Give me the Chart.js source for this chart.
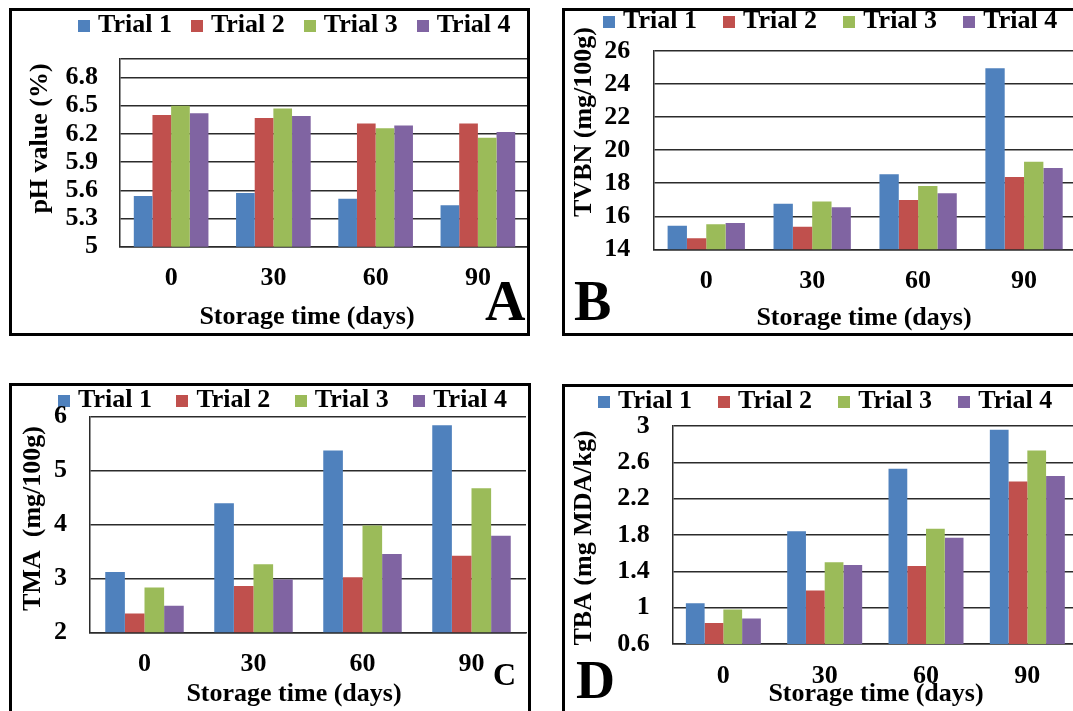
<!DOCTYPE html>
<html><head><meta charset="utf-8">
<script src="https://cdn.jsdelivr.net/npm/chart.js@4.4.1/dist/chart.umd.min.js"></script>
<style>
html,body{margin:0;padding:0;background:#fff;overflow:hidden;width:1073px;height:711px;}
body{position:relative;}
canvas{position:absolute;}
.box{position:absolute;border:3px solid #000;box-sizing:border-box;pointer-events:none;}
</style></head><body>
<canvas id="cA" width="560" height="370" style="left:0;top:0;width:560px;height:370px"></canvas>
<canvas id="cB" width="580" height="370" style="left:545px;top:0;width:580px;height:370px"></canvas>
<canvas id="cC" width="560" height="350" style="left:0;top:370px;width:560px;height:350px"></canvas>
<canvas id="cD" width="580" height="350" style="left:545px;top:370px;width:580px;height:350px"></canvas>
<div class="box" style="left:9px;top:8px;width:521px;height:328px"></div>
<div class="box" style="left:562px;top:8px;width:600px;height:328px"></div>
<div class="box" style="left:9px;top:383px;width:522px;height:400px"></div>
<div class="box" style="left:562px;top:384px;width:600px;height:400px"></div>
<script>
// ---- data ----
const days = ['0', '30', '60', '90'];
const trials = ['Trial 1', 'Trial 2', 'Trial 3', 'Trial 4'];

const ph1 = [5.54, 5.57, 5.51, 5.44];
const ph2 = [6.40, 6.37, 6.31, 6.31];
const ph3 = [6.50, 6.47, 6.26, 6.16];
const ph4 = [6.42, 6.39, 6.29, 6.22];

const tvbn1 = [15.43, 16.76, 18.54, 24.95];
const tvbn2 = [14.67, 15.37, 16.98, 18.38];
const tvbn3 = [15.51, 16.90, 17.83, 19.30];
const tvbn4 = [15.59, 16.54, 17.39, 18.92];

const tma1 = [3.12, 4.39, 5.37, 5.84];
const tma2 = [2.35, 2.86, 3.02, 3.42];
const tma3 = [2.83, 3.26, 3.98, 4.67];
const tma4 = [2.49, 2.98, 3.45, 3.79];

const tba1 = [1.05, 1.84, 2.53, 2.96];
const tba2 = [0.83, 1.19, 1.46, 2.39];
const tba3 = [0.98, 1.50, 1.87, 2.73];
const tba4 = [0.88, 1.47, 1.77, 2.45];

const phTicks = [5, 5.3, 5.6, 5.9, 6.2, 6.5, 6.8];
const phAxisMax = 7;
const tvbnTicks = [14, 16, 18, 20, 22, 24, 26];
const tmaTicks = [2, 3, 4, 5, 6];
const tbaTicks = [0.6, 1, 1.4, 1.8, 2.2, 2.6, 3];

// ---- style ----
const colors = ['#4F81BD', '#C0504D', '#9BBB59', '#8064A2'];
const FONT = '"Liberation Serif", "Times New Roman", serif';
const FS = 26;
const GRID = '#2b2b2b';
Chart.defaults.font.family = FONT;
Chart.defaults.color = '#000';

function swatch(color) {
  const c = document.createElement('canvas');
  c.width = 12; c.height = 12;
  const g = c.getContext('2d');
  g.fillStyle = color; g.fillRect(0, 0, 12, 12);
  return c;
}

function textPlugin(items) {
  return {
    id: 'panelText',
    afterDraw(chart) {
      const ctx = chart.ctx;
      items.forEach(it => {
        ctx.save();
        ctx.font = 'bold ' + it.size + 'px ' + FONT;
        ctx.fillStyle = '#000';
        ctx.textAlign = it.align || 'center';
        ctx.textBaseline = it.baseline || 'middle';
        ctx.translate(it.x, it.y);
        if (it.rot) ctx.rotate(it.rot);
        ctx.fillText(it.text, 0, 0);
        ctx.restore();
      });
    }
  };
}

function makePanel(id, series, tickVals, axisMax, L, texts) {
  const PL = L.cursorX - L.p;
  const PT = L.textCY - FS / 2 - L.p;
  const natural = FS + L.p + 10;
  const required = L.t - PT;
  const legendMax = Math.min(natural, required);
  const dummyH = Math.max(0, required - natural);
  const yW = L.l - PL;
  const rW = L.W - L.r;
  const xH = L.H - L.b;
  const allTicks = axisMax > tickVals[tickVals.length - 1] ? tickVals.concat([axisMax]) : tickVals.slice();
  const font = { family: FONT, size: FS, weight: 'bold' };

  new Chart(document.getElementById(id), {
    type: 'bar',
    data: {
      labels: days,
      datasets: series.map((d, i) => ({
        label: trials[i], data: d, backgroundColor: colors[i], borderWidth: 0,
        xAxisID: 'x', yAxisID: 'y', categoryPercentage: L.cat, barPercentage: 1
      }))
    },
    options: {
      animation: false, responsive: false, maintainAspectRatio: false,
      layout: { padding: { left: PL, top: PT, right: 0, bottom: 0 } },
      plugins: {
        tooltip: { enabled: false },
        legend: {
          display: true, position: 'top', align: 'start', maxHeight: legendMax,
          labels: {
            font: font, color: '#000', usePointStyle: true, pointStyleWidth: 2, padding: L.p,
            generateLabels(chart) {
              const items = Chart.defaults.plugins.legend.labels.generateLabels(chart);
              items.forEach(it => { it.pointStyle = swatch(it.fillStyle); });
              return items;
            }
          }
        }
      },
      scales: {
        x: {
          type: 'category', position: 'bottom', offset: true,
          grid: { display: false, drawTicks: false },
          border: { display: true, color: GRID, width: 1.5 },
          ticks: { font: font, color: '#000', padding: L.xPad, autoSkip: false, maxRotation: 0 },
          afterFit: s => { s.height = xH; }
        },
        y: {
          type: 'linear', position: 'left', min: tickVals[0], max: axisMax,
          grid: { color: GRID, lineWidth: 1.5, drawTicks: false },
          border: { display: true, color: GRID, width: 1.5 },
          ticks: {
            font: font, color: '#000', padding: L.yPad, autoSkip: false,
            callback: v => tickVals.includes(v) ? String(v) : ''
          },
          afterBuildTicks: s => { s.ticks = allTicks.map(v => ({ value: v })); },
          afterFit: s => { s.width = yW; }
        },
        topPad: {
          type: 'linear', axis: 'x', position: 'top', display: true,
          grid: { display: false, drawTicks: false }, border: { display: false },
          ticks: { display: false },
          afterFit: s => { s.height = dummyH; }
        },
        rightPad: {
          type: 'linear', axis: 'y', position: 'right', display: true,
          grid: { display: false, drawTicks: false }, border: { display: false },
          ticks: { display: false },
          afterFit: s => { s.width = rW; }
        }
      }
    },
    plugins: [textPlugin(texts)]
  });
}

const HALF = -Math.PI / 2;

makePanel('cA', [ph1, ph2, ph3, ph4], phTicks, phAxisMax,
  { W: 560, H: 370, cursorX: 83, p: 24, textCY: 25.5, l: 120, t: 58.7, r: 529, b: 246.7, cat: 0.73, yPad: 22, xPad: 16 },
  [
    { text: 'Storage time (days)', x: 307, y: 317, size: 26 },
    { text: 'pH value (%)', x: 40.5, y: 138.5, rot: HALF, size: 26 },
    { text: 'A', x: 485, y: 320, size: 56, align: 'left', baseline: 'alphabetic' }
  ]);

makePanel('cB', [tvbn1, tvbn2, tvbn3, tvbn4], tvbnTicks, 26,
  { W: 580, H: 370, cursorX: 63, p: 31.2, textCY: 21.5, l: 108.3, t: 51, r: 532, b: 249.3, cat: 0.73, yPad: 23, xPad: 16 },
  [
    { text: 'Storage time (days)', x: 319, y: 318, size: 26 },
    { text: 'TVBN (mg/100g)', x: 39, y: 122, rot: HALF, size: 26 },
    { text: 'B', x: 29, y: 320, size: 56, align: 'left', baseline: 'alphabetic' }
  ]);

makePanel('cC', [tma1, tma2, tma3, tma4], tmaTicks, 6,
  { W: 560, H: 350, cursorX: 63, p: 29.5, textCY: 30.5, l: 90, t: 46.5, r: 526, b: 262.3, cat: 0.72, yPad: 23, xPad: 16 },
  [
    { text: 'Storage time (days)', x: 294, y: 324, size: 26 },
    { text: 'TMA  (mg/100g)', x: 33.5, y: 148.5, rot: HALF, size: 26 },
    { text: 'C', x: 493, y: 315, size: 32, align: 'left', baseline: 'alphabetic' }
  ]);

makePanel('cD', [tba1, tba2, tba3, tba4], tbaTicks, 3,
  { W: 580, H: 350, cursorX: 58, p: 31.2, textCY: 31.5, l: 127.7, t: 56, r: 533, b: 274, cat: 0.74, yPad: 23, xPad: 17 },
  [
    { text: 'Storage time (days)', x: 331, y: 324, size: 26 },
    { text: 'TBA (mg MDA/kg)', x: 39, y: 168, rot: HALF, size: 26 },
    { text: 'D', x: 31, y: 328, size: 54, align: 'left', baseline: 'alphabetic' }
  ]);
</script></body></html>
